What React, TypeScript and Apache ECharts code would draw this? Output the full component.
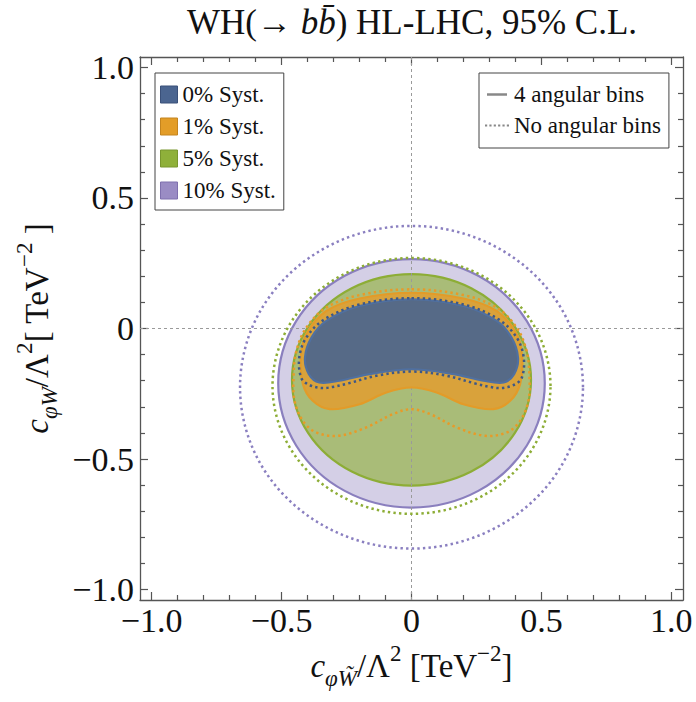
import React, { useEffect, useRef } from "react";
import * as echarts from "echarts";

const X_MIN = -1.045;
const X_MAX = 1.045;
const Y_MIN = -1.04;
const Y_MAX = 1.04;

const majorTicks = [-1, -0.5, 0, 0.5, 1];
const minorTicks = [-0.9, -0.8, -0.7, -0.6, -0.4, -0.3, -0.2, -0.1, 0.1, 0.2, 0.3, 0.4, 0.6, 0.7, 0.8, 0.9];

const systLabels = ["0% Syst.", "1% Syst.", "5% Syst.", "10% Syst."];
const binLabels = ["4 angular bins", "No angular bins"];

// 95% C.L. contours, points [c_phiWtilde, c_phiW] (TeV^-2)
const syst10Bins = [[0.513, -0.21], [0.444, 0.028], [0.257, 0.202], [0, 0.266], [-0.257, 0.202], [-0.444, 0.028], [-0.513, -0.21], [-0.444, -0.448], [-0.257, -0.622], [0, -0.686], [0.257, -0.622], [0.444, -0.448]];
const syst10NoBins = [[0.66, -0.225], [0.572, 0.084], [0.33, 0.31], [0, 0.393], [-0.33, 0.31], [-0.572, 0.084], [-0.66, -0.225], [-0.572, -0.534], [-0.33, -0.76], [0, -0.843], [0.33, -0.76], [0.572, -0.534]];
const syst5Bins = [[0.46, -0.197], [0.398, 0.006], [0.23, 0.154], [0, 0.208], [-0.23, 0.154], [-0.398, 0.006], [-0.46, -0.197], [-0.398, -0.4], [-0.23, -0.548], [0, -0.602], [0.23, -0.548], [0.398, -0.4]];
const syst5NoBins = [[0.535, -0.22], [0.463, 0.025], [0.268, 0.204], [0, 0.27], [-0.268, 0.204], [-0.463, 0.025], [-0.535, -0.22], [-0.463, -0.465], [-0.268, -0.644], [0, -0.71], [0.268, -0.644], [0.463, -0.465]];
const syst1Bins = [[0, 0.137], [0.2, 0.115], [0.328, 0.067], [0.405, -0.022], [0.426, -0.112], [0.418, -0.213], [0.38, -0.277], [0.315, -0.309], [0.2, -0.29], [0.097, -0.245], [0, -0.226], [-0.097, -0.245], [-0.2, -0.29], [-0.315, -0.309], [-0.38, -0.277], [-0.418, -0.213], [-0.426, -0.112], [-0.405, -0.022], [-0.328, 0.067], [-0.2, 0.115]];
const syst1NoBins = [[0, 0.15], [0.2, 0.128], [0.328, 0.08], [0.405, 0.003], [0.443, -0.086], [0.454, -0.188], [0.45, -0.277], [0.418, -0.354], [0.367, -0.398], [0.283, -0.411], [0.174, -0.379], [0.072, -0.328], [0, -0.309], [-0.072, -0.328], [-0.174, -0.379], [-0.283, -0.411], [-0.367, -0.398], [-0.418, -0.354], [-0.45, -0.277], [-0.454, -0.188], [-0.443, -0.086], [-0.405, 0.003], [-0.328, 0.08], [-0.2, 0.128]];
const syst0Bins = [[0, 0.112], [0.2, 0.086], [0.328, 0.029], [0.385, -0.035], [0.41, -0.112], [0.395, -0.175], [0.355, -0.207], [0.277, -0.2], [0.162, -0.175], [0, -0.156], [-0.162, -0.175], [-0.277, -0.2], [-0.355, -0.207], [-0.395, -0.175], [-0.41, -0.112], [-0.385, -0.035], [-0.328, 0.029], [-0.2, 0.086]];
const syst0NoBins = [[0, 0.116], [0.2, 0.092], [0.335, 0.035], [0.405, -0.035], [0.432, -0.112], [0.424, -0.19], [0.392, -0.217], [0.346, -0.228], [0.304, -0.224], [0.25, -0.212], [0.13, -0.18], [0, -0.165], [-0.13, -0.18], [-0.25, -0.212], [-0.304, -0.224], [-0.346, -0.228], [-0.392, -0.217], [-0.424, -0.19], [-0.432, -0.112], [-0.405, -0.035], [-0.335, 0.035], [-0.2, 0.092]];

const SERIF = '"Liberation Serif", "DejaVu Serif", "Times New Roman", serif';
const FRAME = "#555555";
const TEXT = "#111111";

const richName = {
  n: { fontFamily: SERIF, fontSize: 33, color: TEXT, lineHeight: 48 },
  i: { fontFamily: SERIF, fontStyle: "italic", fontSize: 33, color: TEXT, lineHeight: 48 },
  sub: { fontFamily: SERIF, fontStyle: "italic", fontSize: 23, color: TEXT, lineHeight: 23, verticalAlign: "bottom" },
  sup: { fontFamily: SERIF, fontSize: 23, color: TEXT, lineHeight: 23, verticalAlign: "top" },
};

const fmtTick = (v: number) => {
  if (Math.abs(v) < 1e-9) return "0";
  return (v < 0 ? "\u2212" : "") + Math.abs(v).toFixed(1);
};

function fillSeries(name: string, pts: number[][], fill: string, stroke: string, swatch: string, swatchBorder: string, z: number) {
  return {
    type: "custom",
    name,
    coordinateSystem: "cartesian2d",
    xAxisIndex: 0,
    yAxisIndex: 0,
    z,
    silent: true,
    itemStyle: { color: swatch, borderColor: swatchBorder, borderWidth: 1 },
    data: [[0, 0]],
    renderItem: (_p: any, api: any) => ({
      type: "polygon",
      shape: { points: pts.map((p) => api.coord(p)), smooth: 0.35 },
      style: { fill, stroke, lineWidth: 2.2 },
    }),
  };
}

function dotSeries(id: string, pts: number[][], stroke: string, z: number) {
  return {
    type: "custom",
    id,
    coordinateSystem: "cartesian2d",
    xAxisIndex: 0,
    yAxisIndex: 0,
    z,
    silent: true,
    data: [[0, 0]],
    renderItem: (_p: any, api: any) => ({
      type: "polygon",
      shape: { points: pts.map((p) => api.coord(p)), smooth: 0.35 },
      style: { fill: "none", stroke, lineWidth: 2.5, lineDash: [2.4, 3.2] },
    }),
  };
}

function xAxisDef(position: "bottom" | "top", ticks: number[], len: number, showLine: boolean, labels: boolean, extra: any = {}) {
  return {
    type: "value",
    gridIndex: 0,
    position,
    min: X_MIN,
    max: X_MAX,
    axisLine: { show: showLine, onZero: false, lineStyle: { color: FRAME, width: 1.3 } },
    axisTick: { show: true, inside: true, length: len, customValues: ticks, lineStyle: { color: FRAME, width: 1.2 } },
    axisLabel: labels
      ? { show: true, customValues: majorTicks, formatter: fmtTick, fontFamily: SERIF, fontSize: 34, color: TEXT, margin: 3 }
      : { show: false },
    splitLine: { show: false },
    minorTick: { show: false },
    ...extra,
  };
}

function yAxisDef(position: "left" | "right", ticks: number[], len: number, showLine: boolean, labels: boolean, extra: any = {}) {
  return {
    type: "value",
    gridIndex: 0,
    position,
    min: Y_MIN,
    max: Y_MAX,
    axisLine: { show: showLine, onZero: false, lineStyle: { color: FRAME, width: 1.3 } },
    axisTick: { show: true, inside: true, length: len, customValues: ticks, lineStyle: { color: FRAME, width: 1.2 } },
    axisLabel: labels
      ? { show: true, customValues: majorTicks, formatter: fmtTick, fontFamily: SERIF, fontSize: 34, color: TEXT, margin: 6 }
      : { show: false },
    splitLine: { show: false },
    minorTick: { show: false },
    ...extra,
  };
}

export default function App() {
  const ref = useRef<HTMLDivElement>(null);

  useEffect(() => {
    document.body.style.margin = "0";
    if (!ref.current) return;
    const chart = echarts.init(ref.current, undefined, { renderer: "svg" });

    const dotIcon = "path://M0 0h2v2h-2zM4 0h2v2h-2zM8 0h2v2h-2zM12 0h2v2h-2zM16 0h2v2h-2zM20 0h2v2h-2z";
    const lineIcon = "path://M0 0H24V3H0Z";

    const option: any = {
      animation: false,
      backgroundColor: "#ffffff",
      title: {
        text: "WH(\u2192 {i|b}{i|b\u0304}) HL-LHC, 95% C.L.",
        left: 407,
        top: 0,
        textAlign: "center",
        textStyle: {
          fontFamily: SERIF,
          fontSize: 35,
          fontWeight: "normal",
          color: TEXT,
          rich: {
            i: { fontFamily: SERIF, fontStyle: "italic", fontSize: 35, color: TEXT },
          },
        },
      },
      grid: { left: 140, right: 13, top: 57, bottom: 102, containLabel: false },
      xAxis: [
        xAxisDef("bottom", majorTicks, 8, true, true, {
          name: "{i|c}{sub|\u03c6W\u0303}{n|/\u039b}{sup|2}{n| [TeV}{sup|\u22122}{n|]}",
          nameLocation: "middle",
          nameGap: 23,
          nameTextStyle: { rich: richName },
        }),
        xAxisDef("bottom", minorTicks, 5, false, false),
        xAxisDef("top", majorTicks, 8, true, false),
        xAxisDef("top", minorTicks, 5, false, false),
      ],
      yAxis: [
        yAxisDef("left", majorTicks, 8, true, true, {
          name: "{i|c}{sub|\u03c6W}{n|/\u039b}{sup|2}{n|[ TeV}{sup|\u22122}{n| ]}",
          nameLocation: "middle",
          nameRotate: 90,
          nameGap: 78,
          nameTextStyle: { rich: richName },
        }),
        yAxisDef("left", minorTicks, 5, false, false),
        yAxisDef("right", majorTicks, 8, true, false),
        yAxisDef("right", minorTicks, 5, false, false),
      ],
      legend: [
        {
          orient: "vertical",
          left: 155,
          top: 73,
          data: systLabels,
          icon: "rect",
          itemWidth: 17,
          itemHeight: 17,
          itemGap: 9,
          padding: [10, 8, 8, 5],
          borderColor: "#444444",
          borderWidth: 1,
          borderRadius: 0,
          backgroundColor: "#ffffff",
          selectedMode: false,
          itemStyle: { borderWidth: 1 },
          textStyle: { fontFamily: SERIF, fontSize: 23, color: TEXT, lineHeight: 22 },
        },
        {
          orient: "vertical",
          left: 479,
          top: 73,
          data: [
            { name: binLabels[0], icon: lineIcon },
            { name: binLabels[1], icon: dotIcon },
          ],
          itemWidth: 24,
          itemHeight: 2.5,
          itemGap: 8,
          padding: [10, 8, 11, 6],
          borderColor: "#444444",
          borderWidth: 1,
          borderRadius: 0,
          backgroundColor: "#ffffff",
          selectedMode: false,
          textStyle: { fontFamily: SERIF, fontSize: 23, color: TEXT, lineHeight: 22 },
        },
      ],
      series: [
        fillSeries(systLabels[3], syst10Bins, "#d4cfe6", "#8a7fbe", "#9a8cc4", "#7f70ae", 1),
        fillSeries(systLabels[2], syst5Bins, "#a9bc78", "#8dad36", "#8fb03a", "#78962e", 2),
        {
          type: "custom",
          id: "axes0",
          coordinateSystem: "cartesian2d",
          xAxisIndex: 0,
          yAxisIndex: 0,
          z: 3,
          silent: true,
          data: [[0, 0]],
          renderItem: (_p: any, api: any) => {
            const a = api.coord([0, Y_MIN]);
            const b = api.coord([0, Y_MAX]);
            const c = api.coord([X_MIN, 0]);
            const d = api.coord([X_MAX, 0]);
            const st = { stroke: "#9a9a9a", lineWidth: 1, lineDash: [3, 3], fill: "none" };
            return {
              type: "group",
              children: [
                { type: "line", shape: { x1: a[0], y1: a[1], x2: b[0], y2: b[1] }, style: st },
                { type: "line", shape: { x1: c[0], y1: c[1], x2: d[0], y2: d[1] }, style: st },
              ],
            };
          },
        },
        fillSeries(systLabels[1], syst1Bins, "#d9a23b", "#e39b28", "#e39d28", "#c4841e", 4),
        fillSeries(systLabels[0], syst0Bins, "#566a87", "#5070a0", "#4b6590", "#3a5079", 5),
        dotSeries("d10", syst10NoBins, "#8a7fc0", 6),
        dotSeries("d5", syst5NoBins, "#8dad36", 7),
        dotSeries("d1", syst1NoBins, "#e89a28", 8),
        dotSeries("d0", syst0NoBins, "#3d5888", 9),
        { type: "line", name: binLabels[0], data: [], color: "#888888", symbol: "none" },
        { type: "line", name: binLabels[1], data: [], color: "#888888", symbol: "none", lineStyle: { type: "dotted" } },
      ],
    };

    chart.setOption(option);
    return () => chart.dispose();
  }, []);

  return <div ref={ref} style={{ width: 696, height: 702 }} />;
}
